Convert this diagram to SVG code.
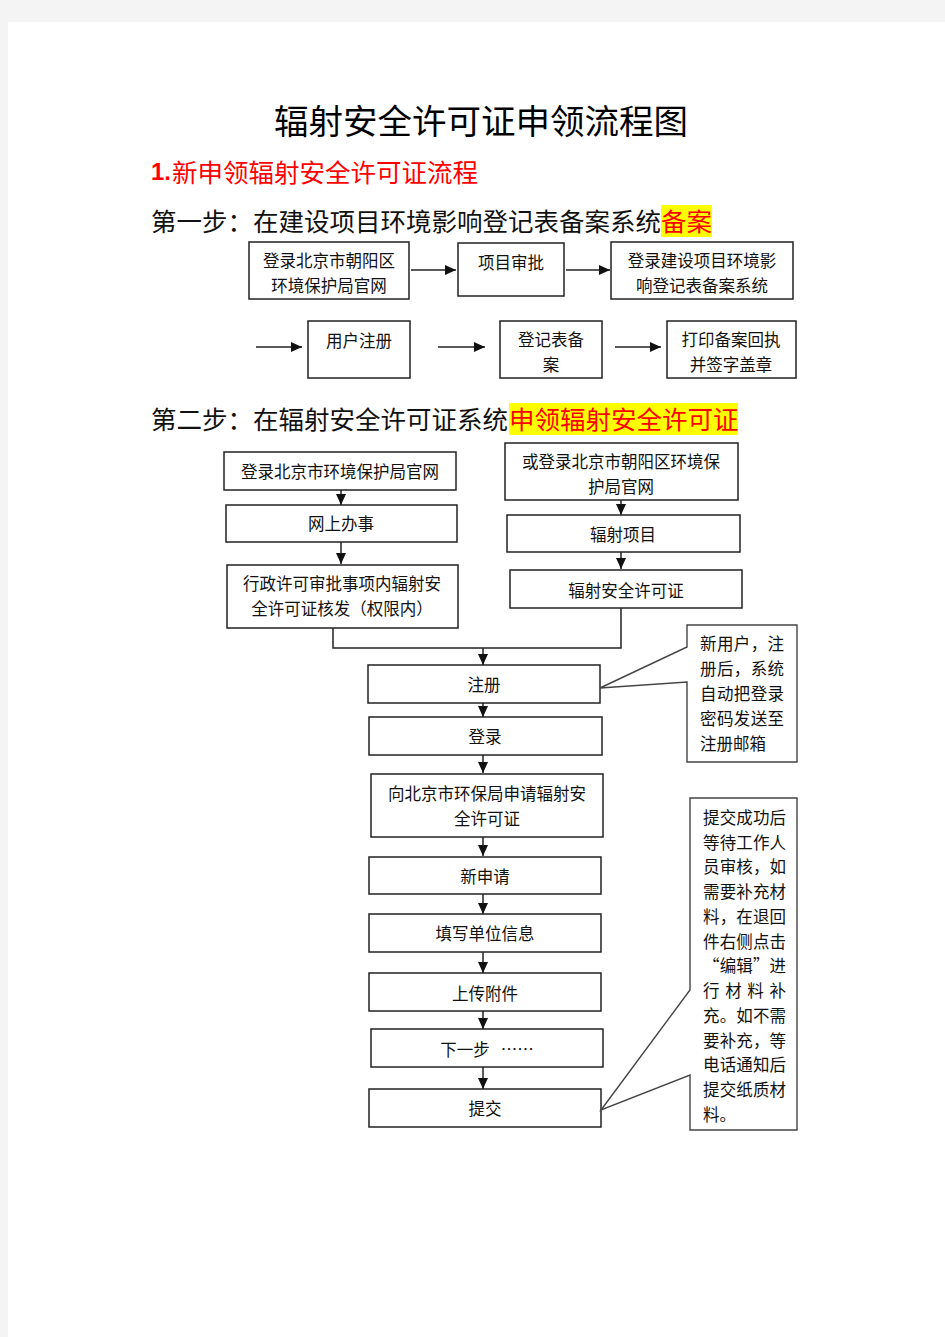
<svg xmlns="http://www.w3.org/2000/svg" width="945" height="1337" viewBox="0 0 945 1337">
<defs>
<style>
.box{fill:#fff;stroke:#222;stroke-width:1.5}
.t{font-family:"Noto Sans CJK SC","Noto Sans",sans-serif;font-size:16.5px;fill:#111;text-anchor:middle;dominant-baseline:central}
.tl{font-family:"Noto Sans CJK SC","Noto Sans",sans-serif;font-size:16.5px;fill:#111;dominant-baseline:central}
.h{font-family:"Noto Sans CJK SC","Noto Sans",sans-serif;font-size:25.5px;dominant-baseline:central}
.ln{fill:none;stroke:#222;stroke-width:1.5}
.call{fill:#fff;stroke:#444;stroke-width:1.4}
</style>
<marker id="ah" markerWidth="12" markerHeight="12" refX="11" refY="6" orient="auto" markerUnits="userSpaceOnUse">
<path d="M0,1 L11,6 L0,11 Z" fill="#111"/>
</marker>
</defs>
<rect x="0" y="0" width="945" height="1337" fill="#f4f4f4"/>
<rect x="8" y="22" width="937" height="1315" fill="#fff"/>

<g id="headings">
<text x="481" y="119" font-family="'Noto Sans CJK SC',sans-serif" font-size="34.5" text-anchor="middle" dominant-baseline="central" fill="#000">辐射安全许可证申领流程图</text>
<text x="151" y="171" font-family="'Liberation Sans',sans-serif" font-weight="bold" font-size="24" dominant-baseline="central" fill="#f00">1.</text>
<text x="172" y="170" class="h" fill="#f00">新申领辐射安全许可证流程</text>
<text x="151" y="219" class="h" fill="#111">第一步：在建设项目环境影响登记表备案系统</text>
<rect x="661" y="205" width="51" height="32" fill="#ff0"/>
<text x="661" y="219" class="h" fill="#f00">备案</text>
<text x="151" y="417" class="h" fill="#111">第二步：在辐射安全许可证系统</text>
<rect x="509" y="403" width="229" height="32" fill="#ff0"/>
<text x="509" y="417" class="h" fill="#f00">申领辐射安全许可证</text>
</g>

<g id="connectors">
<line class="ln" x1="411" y1="270" x2="456" y2="270" marker-end="url(#ah)"/>
<line class="ln" x1="566" y1="270" x2="610" y2="270" marker-end="url(#ah)"/>
<line class="ln" x1="256" y1="347" x2="302" y2="347" marker-end="url(#ah)"/>
<line class="ln" x1="438" y1="347" x2="485" y2="347" marker-end="url(#ah)"/>
<line class="ln" x1="615" y1="347" x2="661" y2="347" marker-end="url(#ah)"/>
<line class="ln" x1="341" y1="490" x2="341" y2="505" marker-end="url(#ah)"/>
<line class="ln" x1="341" y1="542" x2="341" y2="564" marker-end="url(#ah)"/>
<line class="ln" x1="621" y1="500" x2="621" y2="515" marker-end="url(#ah)"/>
<line class="ln" x1="621" y1="552" x2="621" y2="569" marker-end="url(#ah)"/>
<polyline class="ln" points="333,628 333,648 621,648 621,608"/>
<line class="ln" x1="483" y1="648" x2="483" y2="665" marker-end="url(#ah)"/>
<line class="ln" x1="483" y1="703" x2="483" y2="717" marker-end="url(#ah)"/>
<line class="ln" x1="483" y1="755" x2="483" y2="773" marker-end="url(#ah)"/>
<line class="ln" x1="483" y1="837" x2="483" y2="856" marker-end="url(#ah)"/>
<line class="ln" x1="483" y1="894" x2="483" y2="914" marker-end="url(#ah)"/>
<line class="ln" x1="483" y1="952" x2="483" y2="973" marker-end="url(#ah)"/>
<line class="ln" x1="483" y1="1011" x2="483" y2="1029" marker-end="url(#ah)"/>
<line class="ln" x1="483" y1="1067" x2="483" y2="1089" marker-end="url(#ah)"/>
</g>

<g id="nA"><rect class="box" x="249" y="242" width="160" height="57"/><text class="t" x="329" y="260">登录北京市朝阳区</text><text class="t" x="329" y="285">环境保护局官网</text></g>
<g id="nB"><rect class="box" x="458" y="243" width="106" height="53"/><text class="t" x="511" y="262">项目审批</text></g>
<g id="nC"><rect class="box" x="611" y="242" width="182" height="57"/><text class="t" x="702" y="260">登录建设项目环境影</text><text class="t" x="702" y="285">响登记表备案系统</text></g>
<g id="nD"><rect class="box" x="308" y="321" width="102" height="57"/><text class="t" x="359" y="340">用户注册</text></g>
<g id="nE"><rect class="box" x="500" y="321" width="102" height="57"/><text class="t" x="551" y="339">登记表备</text><text class="t" x="551" y="364">案</text></g>
<g id="nF"><rect class="box" x="667" y="321" width="129" height="57"/><text class="t" x="731" y="339">打印备案回执</text><text class="t" x="731" y="364">并签字盖章</text></g>

<g id="nG"><rect class="box" x="224" y="452" width="232" height="38"/><text class="t" x="340" y="471">登录北京市环境保护局官网</text></g>
<g id="nH"><rect class="box" x="226" y="505" width="231" height="37"/><text class="t" x="341" y="523">网上办事</text></g>
<g id="nI"><rect class="box" x="227" y="565" width="231" height="63"/><text class="t" x="342" y="583">行政许可审批事项内辐射安</text><text class="t" x="342" y="608">全许可证核发（权限内）</text></g>
<g id="nJ"><rect class="box" x="505" y="443" width="233" height="57"/><text class="t" x="621" y="461">或登录北京市朝阳区环境保</text><text class="t" x="621" y="486">护局官网</text></g>
<g id="nK"><rect class="box" x="507" y="515" width="233" height="37"/><text class="t" x="623" y="534">辐射项目</text></g>
<g id="nL"><rect class="box" x="510" y="570" width="232" height="38"/><text class="t" x="626" y="590">辐射安全许可证</text></g>

<g id="n1"><rect class="box" x="368" y="665" width="232" height="38"/><text class="t" x="484" y="684">注册</text></g>
<g id="n2"><rect class="box" x="369" y="717" width="233" height="38"/><text class="t" x="485" y="736">登录</text></g>
<g id="n3"><rect class="box" x="371" y="774" width="232" height="63"/><text class="t" x="487" y="793">向北京市环保局申请辐射安</text><text class="t" x="487" y="818">全许可证</text></g>
<g id="n4"><rect class="box" x="369" y="857" width="232" height="37"/><text class="t" x="485" y="876">新申请</text></g>
<g id="n5"><rect class="box" x="369" y="914" width="232" height="38"/><text class="t" x="485" y="933">填写单位信息</text></g>
<g id="n6"><rect class="box" x="369" y="973" width="232" height="38"/><text class="t" x="485" y="993">上传附件</text></g>
<g id="n7"><rect class="box" x="371" y="1029" width="232" height="38"/><text class="t" x="487" y="1049" xml:space="preserve">下一步   ……</text></g>
<g id="n8"><rect class="box" x="369" y="1089" width="232" height="38"/><text class="t" x="485" y="1108">提交</text></g>

<g id="callout1">
<path class="call" d="M687,625 L797,625 L797,762 L687,762 L687,682 L600,688 L687,647 Z"/>
<text class="tl" x="700" y="643" textLength="84">新用户，注</text>
<text class="tl" x="700" y="668" textLength="84">册后，系统</text>
<text class="tl" x="700" y="693" textLength="84">自动把登录</text>
<text class="tl" x="700" y="718" textLength="84">密码发送至</text>
<text class="tl" x="700" y="743">注册邮箱</text>
</g>
<g id="callout2">
<path class="call" d="M690,798 L797,798 L797,1130 L690,1130 L690,1075 L601,1110 L690,990 Z"/>
<text class="tl" x="703" y="817" textLength="83">提交成功后</text>
<text class="tl" x="703" y="842" textLength="83">等待工作人</text>
<text class="tl" x="703" y="866" textLength="83">员审核，如</text>
<text class="tl" x="703" y="891" textLength="83">需要补充材</text>
<text class="tl" x="703" y="916" textLength="83">料，在退回</text>
<text class="tl" x="703" y="941" textLength="83">件右侧点击</text>
<text class="tl" x="703" y="965" textLength="83">“编辑”进</text>
<text class="tl" x="703" y="990" textLength="83" xml:space="preserve">行 材 料 补</text>
<text class="tl" x="703" y="1015" textLength="83">充。如不需</text>
<text class="tl" x="703" y="1040" textLength="83">要补充，等</text>
<text class="tl" x="703" y="1064" textLength="83">电话通知后</text>
<text class="tl" x="703" y="1089" textLength="83">提交纸质材</text>
<text class="tl" x="703" y="1114">料。</text>
</g>
</svg>
